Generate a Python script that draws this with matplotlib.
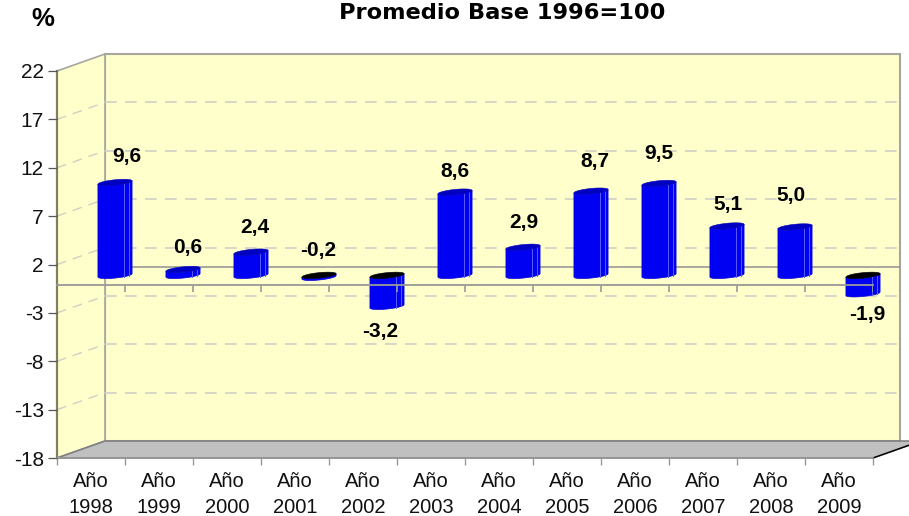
import numpy as np
import matplotlib
matplotlib.use('Agg')
import matplotlib.pyplot as plt
from matplotlib.patches import Polygon

plt.rcParams['font.family'] = ['Liberation Sans', 'DejaVu Sans']

years = ['1998', '1999', '2000', '2001', '2002', '2003', '2004', '2005', '2006', '2007', '2008', '2009']
values = [9.6, 0.6, 2.4, -0.2, -3.2, 8.6, 2.9, 8.7, 9.5, 5.1, 5.0, -1.9]
labels = ['9,6', '0,6', '2,4', '-0,2', '-3,2', '8,6', '2,9', '8,7', '9,5', '5,1', '5,0', '-1,9']
y_ticks = [-18, -13, -8, -3, 2, 7, 12, 17, 22]

# label shift from the top of the bar (bottom when negative), in pixels
label_dx = [11.5, 5, 4, -1, -7, 0, 1, 4, 0, 1, -4, 4]
label_dy = [26, 22, 24.5, 24.5, -25.5, 20.5, 24.5, 29.5, 30, 21.5, 31.5, -21]

W, H = 909, 516
fig = plt.figure(figsize=(W / 100, H / 100), dpi=100)
left, right, top, bottom = 57, 873, 71, 458
ax = fig.add_axes([left / W, 1 - bottom / H, (right - left) / W, (bottom - top) / H])
ax.set_xlim(0, 12)
ax.set_ylim(-18, 22)
ax.patch.set_visible(False)

px_x = (right - left) / 12
px_y = (bottom - top) / 40
depth_x = 48 / px_x
depth_y = 17 / px_y
ymin, ymax = -18, 22
wall = '#FFFFCC'
edge = '#A6A6A0'
grid = '#CFCFC4'

# walls and floor
ax.add_patch(Polygon([(depth_x, ymin + depth_y), (12.4, ymin + depth_y), (12.4, ymax + depth_y), (depth_x, ymax + depth_y)],
                     facecolor=wall, edgecolor=edge, lw=1.5, clip_on=False, zorder=1))
ax.add_patch(Polygon([(0, ymin), (depth_x, ymin + depth_y), (depth_x, ymax + depth_y), (0, ymax)],
                     facecolor=wall, edgecolor=edge, lw=1.2, clip_on=False, zorder=1))
ax.add_patch(Polygon([(0, ymin), (depth_x, ymin + depth_y), (12 + depth_x, ymin + depth_y), (12, ymin)],
                     facecolor='#C0C0C0', edgecolor='#808080', lw=1.2, clip_on=False, zorder=1.1))
ax.plot([12, 12 + depth_x], [ymin, ymin + depth_y], color='black', lw=1, clip_on=False, zorder=1.2)

# dashed grid on both walls
for v in y_ticks[1:-1]:
    ax.plot([0, depth_x], [v, v + depth_y], color=grid, lw=1, ls=(0, (7, 5)), clip_on=False, zorder=1.5)
    ax.plot([depth_x, 12.4], [v + depth_y, v + depth_y], color=grid, lw=1.2, ls=(0, (7, 5)), clip_on=False, zorder=1.5)

# zero lines, back one behind the bars, front one over them
zero_front = -0.12
ax.plot([depth_x, 12.4], [depth_y, depth_y], color='#999999', lw=1.2, clip_on=False, zorder=1.6)
ax.plot([0, 12], [zero_front, zero_front], color='#999999', lw=1.3, clip_on=False, zorder=4)
ax.vlines(np.arange(1, 13), zero_front - 7 / px_y, zero_front, color='#999999', lw=1.2, zorder=4)

# cylinder shape
r = 14.5 / px_x
dx = 9 / px_x
dy = 3.2 / px_y
t0 = np.arctan2(dx, r)
t_front = np.linspace(t0 + np.pi, t0 + 2 * np.pi, 30)
t_all = np.linspace(0, 2 * np.pi, 60)


def ring(cx, cy, t):
    return np.column_stack([cx + np.cos(t) * r + np.sin(t) * dx, cy + np.sin(t) * dy])


for i, v in enumerate(values):
    cx = i + 0.5 + depth_x / 2
    base = depth_y / 2
    lo = base + min(v, 0)
    hi = base + max(v, 0)
    body = np.vstack([ring(cx, lo, t_front), ring(cx, hi, t_front)[::-1]])
    ax.add_patch(Polygon(body, facecolor='#0000F2', edgecolor='#0000E0', lw=0.5, clip_on=False, zorder=3))
    # light facet edges
    for off in [8.5, 14.0]:
        fx = cx + off / px_x
        f_t = t0 + 2 * np.pi - np.arccos(np.clip((off / px_x) / np.hypot(r, dx), -1, 1))
        shift = ring(0, 0, np.array([f_t]))[0, 1]
        if hi - lo > 0.4:
            ax.plot([fx, fx], [lo + shift, hi + shift], color='#5A5AFF', lw=0.7, clip_on=False, zorder=3.1)
    top_color = 'black' if v < 0 else '#0000C0'
    ax.add_patch(Polygon(ring(cx, hi, t_all), facecolor=top_color, edgecolor=top_color, lw=0.4, clip_on=False, zorder=3.2))
    end = lo if v < -1 else hi
    ax.annotate(labels[i], xy=(cx, end), xytext=(label_dx[i] * 0.72, label_dy[i] * 0.72),
                textcoords='offset points', ha='center', va='center', fontsize=15,
                fontweight='bold', color='black', zorder=5, annotation_clip=False)

# axes
for side in ['top', 'right']:
    ax.spines[side].set_visible(False)
ax.spines['left'].set_color('#808060')
ax.spines['left'].set_linewidth(1.6)
ax.spines['bottom'].set_color('#999999')
ax.spines['bottom'].set_linewidth(1.2)
ax.set_axisbelow(False)
ax.set_yticks(y_ticks)
ax.set_yticklabels([str(v) for v in y_ticks], fontsize=15, color='#111111')
ax.tick_params(axis='y', length=6.5, width=0.9, color='#555555', pad=3)
ax.set_xticks(np.arange(13))
ax.set_xticklabels([])
ax.tick_params(axis='x', which='major', length=5, width=1, color='#999999')
ax.set_xticks(np.arange(12) + 0.5, minor=True)
ax.set_xticklabels(['Año\n' + y for y in years], minor=True, fontsize=14.5, color='#111111', linespacing=1.5)
ax.tick_params(axis='x', which='minor', length=0, pad=10)

fig.text(502 / W, 1 - 13 / H, 'Promedio Base 1996=100', ha='center', va='center',
         fontsize=16.2, fontweight='bold', color='black', family='DejaVu Sans')
fig.text(43 / W, 1 - 19 / H, '%', ha='center', va='center', fontsize=18.5, fontweight='bold', color='black')

fig.savefig('out.png', dpi=100)
